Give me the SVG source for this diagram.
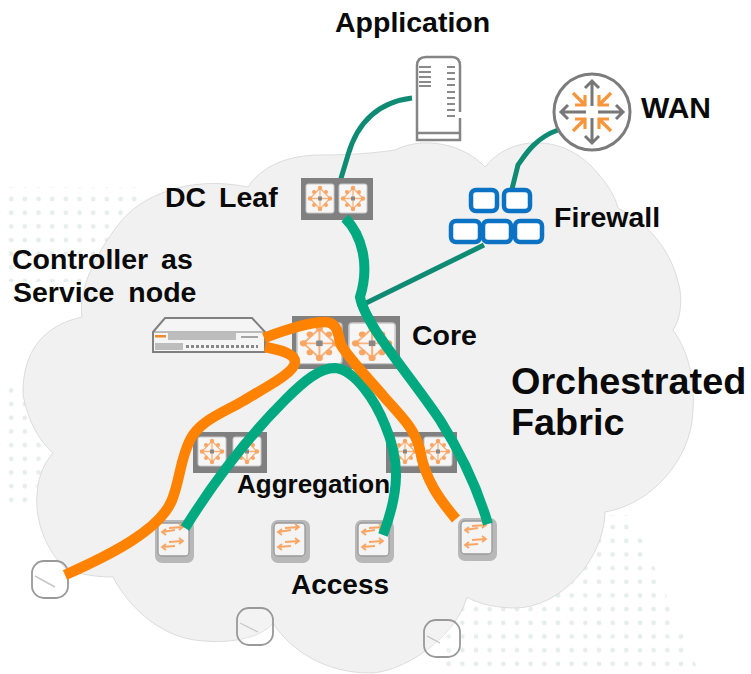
<svg xmlns="http://www.w3.org/2000/svg" width="751" height="674" viewBox="0 0 751 674">
<style>
text{font-family:"Liberation Sans",Arial,sans-serif;font-weight:700;fill:#0a0a0a}
.t{font-size:28.500px}
.big{font-size:37.800px}
.conn{fill:none;stroke-linecap:butt}
.thin{stroke:#0f8a73;stroke-width:5}
.grn{stroke:#00a980;stroke-width:10}
.org{stroke:#ff8300;stroke-width:10.500}
.frame{fill:#808080}
.tile{fill:#f6f6f6;stroke:#c8c8c8;stroke-width:1}
.oi{fill:none;stroke:#f9b27a;stroke-width:1.300}
.od{fill:#f9a564}
.ap{fill:#fff;fill-opacity:.2;stroke:#999;stroke-width:1.800}
.brick{fill:#fff;stroke:#0b72c4;stroke-width:4.500}
</style>
<defs>
<pattern id="dots" width="13.67" height="13.67" patternUnits="userSpaceOnUse" patternTransform="translate(11.2 7.7)">
<circle cx="0" cy="0" r="2.400" fill="#e7eded"/><circle cx="13.67" cy="0" r="2.400" fill="#e7eded"/><circle cx="0" cy="13.67" r="2.400" fill="#e7eded"/><circle cx="13.67" cy="13.67" r="2.400" fill="#e7eded"/>
</pattern>
<g id="fab">
<rect class="tile" x="0" y="0" width="28" height="29" rx="2"/>
<path class="oi" d="M14,4 L24,14.500 L14,25 L4,14.500Z M14,14.500V2 M14,14.500V27 M14,14.500H2 M14,14.500H26"/>
<circle class="od" cx="14" cy="4" r="2.200"/><circle class="od" cx="14" cy="25" r="2.200"/><circle class="od" cx="4" cy="14.500" r="2.200"/><circle class="od" cx="24" cy="14.500" r="2.200"/>
<circle class="od" cx="8" cy="8" r="2"/><circle class="od" cx="20" cy="8" r="2"/><circle class="od" cx="8" cy="21" r="2"/><circle class="od" cx="20" cy="21" r="2"/>
<rect x="12" y="12.500" width="4" height="4" fill="#888"/>
</g>
<g id="acc">
<rect x="0" y="0" width="39" height="43" rx="7" fill="#b8b8b8"/>
<rect x="3" y="3" width="31" height="33" rx="4" fill="#f4f4f4" stroke="#999" stroke-width="1.300"/>
<path class="oi" style="stroke:#f9a564;stroke-width:1.800" d="M20,10 L7,12 M11,9 L7,12 L11,15 M14,8 L28,7 M24,4 L28,7 L24,10 M20,26 L7,27 M11,24 L7,27 L11,30 M14,22 L28,21 M24,18 L28,21 L24,24"/>
</g>
<rect id="apb" class="ap" x="0" y="0" width="36" height="37" rx="12"/>
<g id="arrowG"><path d="M0,-6V-31 M-7,-24L0,-31L7,-24" fill="none" stroke="#777" stroke-width="3"/></g>
<g id="arrowO"><path d="M19,-19 L7,-7 M7,-17V-7H17" fill="none" stroke="#f7963c" stroke-width="3.200"/></g>
</defs>

<rect x="0" y="187" width="140" height="95" fill="url(#dots)"/>
<rect x="0" y="380" width="48" height="128" fill="url(#dots)"/>
<polygon points="605,515 632,515 645,545 660,580 672,610 685,640 700,674 445,674 445,600" fill="url(#dots)"/>

<path id="cloud" fill="#f1f1f1" stroke="#d0d0d0" stroke-width="0.700" d="M248,187 C262,165 290,155 320,155 C350,155 375,153 395,150 C425,135 465,145 485,167 C510,135 560,135 590,165 C605,180 615,195 618,208 C650,225 672,250 680,290 C682,305 680,320 673,330 C688,350 695,380 693,410 C692,460 650,505 605,512 C604,560 560,608 515,608 C500,608 480,605 467,597 C455,640 400,673 370,673 C325,673 290,650 273,623 C260,640 225,643 205,641 C165,640 130,610 113,577 C95,577 80,574 67,570 C45,550 35,520 37,495 C38,475 45,462 53,453 C38,440 28,420 23,395 C22,350 45,325 82,317 C78,290 95,255 118,225 C140,195 190,175 248,187Z"/>

<g id="connectors">
<path class="conn thin" d="M412,98 C380,102 358,120 348,155 L339,185"/>
<path class="conn thin" d="M558,130 C535,138 525,155 518,165 L512,189"/>
<path class="conn thin" d="M484,245 L358,307"/>
</g>

<g id="server"><path d="M417,133 V66 Q417,57 426,57 H452 Q460,57 460,66 V112 M460,118 V133 M417,133 V140 H460 V133 M417,133 H460" fill="#fff" stroke="#858585" stroke-width="2.500"/>
<path d="M419,67H431 M419,72H431 M419,77H431 M419,82H431 M419,86H431 M447,67H455 M447,73H455 M447,79H455 M447,85H455 M447,92H455 M447,98H455 M447,104H455 M447,110H455 M447,116H455" stroke="#8a8a8a" stroke-width="1.800" fill="none"/></g>

<g id="wan"><circle cx="592" cy="112" r="38" fill="#fff" stroke="#7c7c7c" stroke-width="3"/>
<use href="#arrowG" x="592" y="112"/><use href="#arrowG" transform="translate(592 112) rotate(90)"/><use href="#arrowG" transform="translate(592 112) rotate(180)"/><use href="#arrowG" transform="translate(592 112) rotate(270)"/>
<use href="#arrowO" transform="translate(592 112)"/><use href="#arrowO" transform="translate(592 112) rotate(90)"/><use href="#arrowO" transform="translate(592 112) rotate(180)"/><use href="#arrowO" transform="translate(592 112) rotate(270)"/></g>

<g id="firewall"><rect class="brick" x="471" y="190" width="26" height="21" rx="5"/><rect class="brick" x="504" y="190" width="26" height="21" rx="5"/><rect class="brick" x="451" y="221" width="29" height="21" rx="5"/><rect class="brick" x="483" y="221" width="28" height="21" rx="5"/><rect class="brick" x="515" y="221" width="27" height="21" rx="5"/></g>

<g id="dcleaf"><rect class="frame" x="301" y="178" width="72" height="42"/><use href="#fab" x="306" y="184"/><use href="#fab" x="339" y="184"/></g>

<g id="core"><rect class="frame" x="292" y="316" width="108" height="53"/><g transform="translate(297 323) scale(1.600 1.400)"><use href="#fab"/></g><g transform="translate(349 323) scale(1.650 1.400)"><use href="#fab"/></g></g>

<g id="controller"><path d="M153,332 L165,318 H252 L265,332 V352 H153Z" fill="#f5f5f5" stroke="#808080" stroke-width="2"/><path d="M153,332H265" stroke="#808080" stroke-width="1"/><rect x="155" y="335" width="11" height="2.500" fill="#f08a2c"/>
<rect x="168" y="333" width="68" height="7" fill="#bdbdbd"/><rect x="155" y="343" width="28" height="7" fill="#bdbdbd"/><path d="M186,346.500H258" stroke="#888" stroke-width="3" stroke-dasharray="3 2"/><path d="M241,337H258" stroke="#888" stroke-width="1.500"/></g>

<g id="aggl"><rect class="frame" x="193" y="432" width="74" height="41"/><use href="#fab" x="198" y="437"/><use href="#fab" x="233" y="437"/></g>
<g id="aggr"><rect class="frame" x="386" y="432" width="71" height="41"/><use href="#fab" x="391" y="437"/><use href="#fab" x="424" y="437"/></g>

<g id="acc1"><use href="#acc" x="155" y="520"/></g>
<g id="acc2"><use href="#acc" x="271" y="520"/></g>
<g id="acc3"><use href="#acc" x="355" y="520"/></g>
<g id="acc4"><use href="#acc" x="458" y="518"/></g>

<g id="ap1"><use href="#apb" x="32" y="561"/><path d="M35,576L55,587" stroke="#c8c8c8" stroke-width="1.500"/></g>
<g id="ap2"><use href="#apb" x="237" y="608"/><path d="M240,623L258,632" stroke="#c8c8c8" stroke-width="1.200"/></g>
<g id="ap3"><use href="#apb" x="424" y="620"/><path d="M427,636L440,643" stroke="#c0c0c0" stroke-width="1.200"/></g>

<g id="links">
<path class="conn grn" d="M345,218 C362,235 370,265 360,297 C365,325 410,375 440,420 C462,455 478,490 488,524"/>
<path class="conn grn" d="M185,528 C215,480 250,435 285,400 C305,380 320,368 335,368 C355,370 375,400 385,425 C400,460 400,490 383,535"/>
<path class="conn org" d="M264,338 C285,330 310,322 325,322 C338,322 338,335 341,345 C350,360 370,380 385,398 C405,420 415,430 420,450 C425,480 440,500 456,519"/>
<path class="conn org" d="M265,347 C280,350 295,353 295,362 C295,372 270,385 243,401 C225,412 200,420 190,440 C180,460 180,480 172,500 C160,530 110,555 65,575"/>
</g>

<text class="t" x="335" y="32">Application</text>
<text class="t" x="641" y="118" style="font-size:30px">WAN</text>
<text class="t" x="554" y="227">Firewall</text>
<text class="t" x="165" y="207" word-spacing="5">DC Leaf</text>
<text class="t" x="12" y="269" word-spacing="5">Controller as</text>
<text class="t" x="13" y="302" word-spacing="6">Service node</text>
<text class="t" x="412" y="345">Core</text>
<text class="big" x="511" y="394">Orchestrated</text>
<text class="big" x="511" y="435">Fabric</text>
<text class="t" x="237" y="493" style="font-size:26px">Aggregation</text>
<text class="t" x="291" y="594" style="font-size:28px">Access</text>
</svg>
